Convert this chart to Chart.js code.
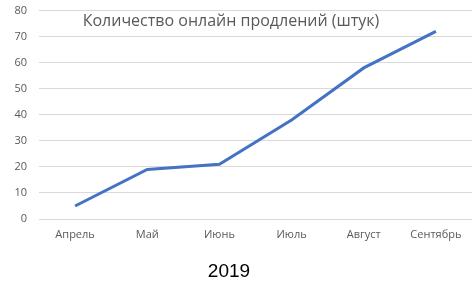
<!DOCTYPE html>
<html>
<head>
<meta charset="utf-8">
<script src="https://cdn.jsdelivr.net/npm/chart.js@4/dist/chart.umd.min.js"></script>
<style>
  body { margin: 0; background: #fff; }
</style>
</head>
<body>
<canvas id="chart" width="475" height="305"></canvas>
<script>
// Данные графика
const months = ['Апрель', 'Май', 'Июнь', 'Июль', 'Август', 'Сентябрь'];
const renewals = [5, 19, 21, 38, 58, 72];
const chartTitle = 'Количество онлайн продлений (штук)';
const yearLabel = '2019';

// Подписи поверх графика (заголовок внутри области и год снизу)
const textPlugin = {
    id: 'texts',
    afterDraw(chart) {
        const ctx = chart.ctx;
        ctx.save();
        ctx.textAlign = 'center';
        ctx.textBaseline = 'middle';
        ctx.fillStyle = '#595959';
        ctx.font = '16px "Open Sans", sans-serif';
        ctx.fillText(chartTitle, 231, 21);
        ctx.fillStyle = '#000000';
        ctx.font = '19px "Liberation Sans", sans-serif';
        ctx.fillText(yearLabel, 229, 272);
        ctx.restore();
    }
};

new Chart(document.getElementById('chart'), {
    type: 'line',
    data: {
        labels: months,
        datasets: [{
            data: renewals,
            borderColor: '#4472C4',
            borderWidth: 3,
            pointRadius: 0,
            tension: 0,
            fill: false
        }]
    },
    options: {
        responsive: false,
        animation: false,
        layout: { padding: { top: 0, right: 3, left: 0, bottom: 0 } },
        plugins: {
            legend: { display: false },
            tooltip: { enabled: false }
        },
        scales: {
            x: {
                offset: true,
                grid: { display: false },
                border: { display: false },
                ticks: {
                    color: '#595959',
                    font: { family: '"Open Sans", sans-serif', size: 11 },
                    padding: 1,
                    maxRotation: 0
                },
                afterFit(scale) { scale.height = 86; }
            },
            y: {
                min: 0,
                max: 80,
                ticks: {
                    stepSize: 10,
                    color: '#595959',
                    font: { family: '"Open Sans", sans-serif', size: 11 },
                    padding: 4
                },
                grid: {
                    color: '#d9d9d9',
                    drawTicks: true,
                    tickLength: 8,
                    tickColor: 'rgba(0,0,0,0)'
                },
                border: { display: false },
                afterFit(scale) { scale.width = 39; }
            }
        }
    },
    plugins: [textPlugin]
});
</script>
</body>
</html>
